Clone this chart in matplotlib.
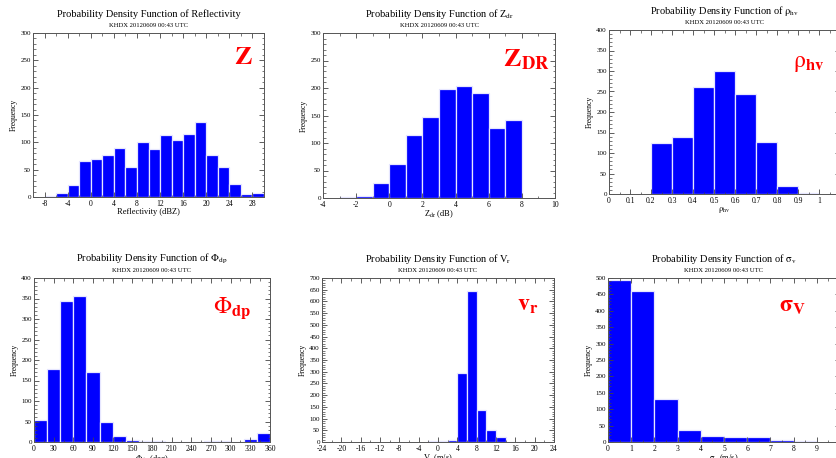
import matplotlib
matplotlib.use('Agg')
import matplotlib.pyplot as plt
from matplotlib.ticker import MultipleLocator, AutoMinorLocator, FormatStrFormatter
import numpy as np

plt.rcParams['font.family'] = ['Liberation Serif', 'DejaVu Serif']
plt.rcParams['mathtext.fontset'] = 'stix'

SUBTITLE = 'KHDX 20120609 00:43 UTC'

# Reflectivity
refl_edges = [-8, -6, -4, -2, 0, 2, 4, 6, 8, 10, 12, 14, 16, 18, 20, 22, 24, 26, 28]
refl_counts = [1, 7, 22, 66, 70, 77, 89, 54, 100, 87, 114, 105, 115, 137, 77, 54, 23, 6, 7]

# Zdr
zdr_edges = [-3, -2, -1, 0, 1, 2, 3, 4, 5, 6, 7]
zdr_counts = [2, 3, 28, 61, 114, 147, 199, 204, 190, 128, 141]

# rho_hv
rho_edges = [0.2, 0.3, 0.4, 0.5, 0.6, 0.7, 0.8, 0.9]
rho_counts = [125, 138, 260, 300, 244, 128, 20, 3]

# Phi_dp
phi_edges = [0, 20, 40, 60, 80, 100, 120, 140, 160, 180, 200, 220, 240, 260, 280, 300, 320, 340]
phi_counts = [54, 179, 343, 355, 171, 48, 15, 5, 2, 2, 0, 0, 0, 2, 2, 0, 7, 22]

# Vr
vr_edges = [-2, 0, 2, 4, 6, 8, 10, 12, 14, 16]
vr_counts = [5, 5, 8, 293, 645, 136, 52, 23, 2, 2]

# sigma_v
sw_edges = [0, 1, 2, 3, 4, 5, 6, 7, 8]
sw_counts = [493, 460, 130, 37, 18, 16, 16, 6, 4]

W, H = 836, 458
fig = plt.figure(figsize=(W / 100, H / 100), dpi=100)


def px_axes(x0, y0, x1, y1):
    return fig.add_axes([x0 / W, 1 - y1 / H, (x1 - x0) / W, (y1 - y0) / H])


def draw_panel(box, edges, counts, width, xlim, ylim, xmajor, ymajor,
               title, xlabel, tag, tag_xy, tag_size=17):
    ax = px_axes(*box)
    ax.bar(edges, counts, width=width, align='edge', color='#0000ff',
           edgecolor='#e6e6ff', linewidth=0.9)
    ax.set_xlim(*xlim)
    ax.set_ylim(*ylim)
    ax.xaxis.set_major_locator(MultipleLocator(xmajor))
    ax.xaxis.set_minor_locator(AutoMinorLocator(2))
    ax.yaxis.set_major_locator(MultipleLocator(ymajor))
    ax.yaxis.set_minor_locator(AutoMinorLocator(5))
    ax.xaxis.set_major_formatter(FormatStrFormatter('%g'))
    ax.tick_params(which='both', direction='in', top=True, right=True,
                   color='#444444')
    ax.tick_params(axis='x', labelsize=5.5, pad=2)
    ax.tick_params(axis='y', labelsize=5, pad=1.5)
    ax.tick_params(which='major', length=3.5, width=0.6)
    ax.tick_params(which='minor', length=1.8, width=0.5)
    for s in ax.spines.values():
        s.set_color('#555555')
        s.set_linewidth(0.7)
    ax.set_xlabel(xlabel, fontsize=6, labelpad=0)
    ax.set_ylabel('Frequency', fontsize=5.5, labelpad=2)
    x0, y0, x1, y1 = box
    cx = (x0 + x1) / 2
    fig.text(cx / W, 1 - (y0 - 19) / H, title, ha='center', va='center', fontsize=7.5)
    fig.text(cx / W, 1 - (y0 - 7.5) / H, SUBTITLE, ha='center', va='center', fontsize=4.8)
    fig.text(tag_xy[0] / W, 1 - tag_xy[1] / H, tag, ha='center', va='center',
             color='red', fontsize=tag_size, fontweight='bold')
    return ax


draw_panel((33, 33, 264, 197), refl_edges, refl_counts, 2, (-10, 30), (0, 300), 4, 50,
           'Probability Density Function of Reflectivity', 'Reflectivity (dBZ)',
           r'$\mathbf{Z}$', (243, 57), 19)
draw_panel((323, 33, 555, 198), zdr_edges, zdr_counts, 1, (-4, 10), (0, 300), 2, 50,
           r'Probability Density Function of Z$_{\rm dr}$', r'Z$_{\rm dr}$ (dB)',
           r'$\mathbf{Z_{DR}}$', (526, 60), 19)
draw_panel((609, 30, 840, 194), rho_edges, rho_counts, 0.1, (0, 1.1), (0, 400), 0.1, 50,
           r'Probability Density Function of $\mathrm{\rho}_{\rm hv}$', r'$\mathrm{\rho}_{\rm hv}$',
           r'$\mathrm{\rho}_{\mathbf{hv}}$', (809, 64))
draw_panel((34, 278, 270, 442), phi_edges, phi_counts, 20, (0, 360), (0, 400), 30, 50,
           r'Probability Density Function of $\mathrm{\Phi}_{\rm dp}$', r'$\mathrm{\Phi}_{\rm dp}$ (deg)',
           r'$\mathrm{\Phi}_{\mathbf{dp}}$', (232, 308))
draw_panel((322, 278, 554, 442), vr_edges, vr_counts, 2, (-24, 24), (0, 700), 4, 50,
           r'Probability Density Function of V$_{\rm r}$', r'V$_{\rm r}$ (m/s)',
           r'$\mathbf{v_r}$', (528, 305))
draw_panel((608, 278, 840, 442), sw_edges, sw_counts, 1, (0, 10), (0, 500), 1, 50,
           r'Probability Density Function of $\mathrm{\sigma}_{\rm v}$', r'$\mathrm{\sigma}_{\rm v}$ (m/s)',
           r'$\mathbf{\sigma_V}$', (793, 307))

fig.savefig('out.png', dpi=100)
